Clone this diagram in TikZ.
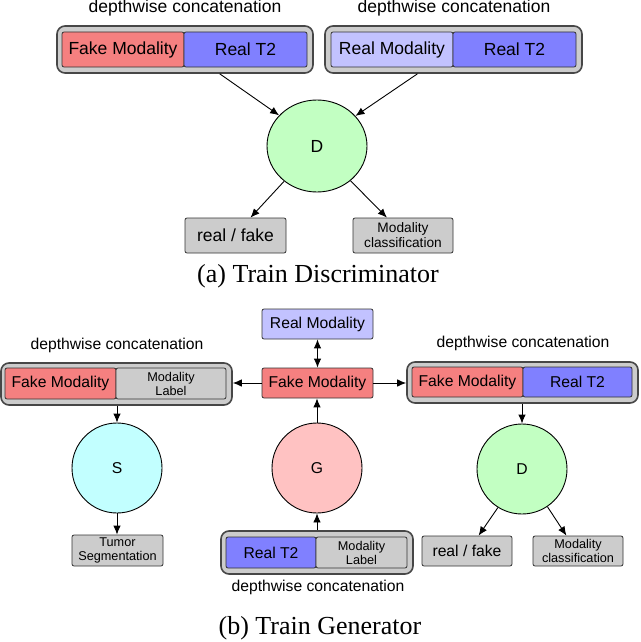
\documentclass[tikz,border=0pt]{standalone}
\usepackage{fontspec}
\setmainfont{Liberation Serif}
\newfontfamily\hvfont{Liberation Sans}
\usetikzlibrary{arrows.meta,shapes.geometric,calc}
\definecolor{fakered}{RGB}{245,128,128}
\definecolor{realblue}{RGB}{128,128,255}
\definecolor{reallight}{RGB}{194,194,255}
\definecolor{boxgray}{RGB}{204,204,204}
\definecolor{grpgray}{RGB}{204,204,204}
\definecolor{dgreen}{RGB}{194,255,194}
\definecolor{scyan}{RGB}{194,255,255}
\definecolor{gpink}{RGB}{255,194,194}
\newcommand\ftopmain{\hvfont\fontsize{17.5}{20}\selectfont}
\newcommand\ftopsmall{\hvfont\fontsize{13.7}{15}\selectfont}
\newcommand\fmain{\hvfont\fontsize{15.7}{18}\selectfont}
\newcommand\fsmall{\hvfont\fontsize{12.7}{14}\selectfont}
\newcommand\fcap{\rmfamily\fontsize{26}{30}\selectfont}
\begin{document}
\begin{tikzpicture}[x=1pt,y=-1pt,
  grp/.style={draw=black!72, line width=1.6pt, fill=grpgray, rounded corners=8pt, inner sep=0pt},
  cell/.style={draw=black!80, line width=0.8pt, rounded corners=2pt, inner sep=0pt, align=center},
  net/.style={ellipse, draw=black, line width=0.9pt, inner sep=0pt},
  lbl/.style={inner sep=0pt},
  arr/.style={-{Latex[length=9pt,width=7.5pt]}, line width=0.9pt},
  darr/.style={{Latex[length=9pt,width=7.5pt]}-{Latex[length=9pt,width=7.5pt]}, line width=0.9pt}]
\useasboundingbox (0,0) rectangle (640,642);

% ---------- (a) Train Discriminator ----------
\node[lbl, font=\ftopmain] (dcA) at (185,8) {depthwise concatenation};
\node[lbl, font=\ftopmain] (dcB) at (454,8) {depthwise concatenation};
\node[grp, minimum width=256pt, minimum height=47pt] (grpA) at (185,49.5) {};
\node[grp, minimum width=257pt, minimum height=47pt] (grpB) at (453.5,49.5) {};
\node[cell, fill=fakered, minimum width=122pt, minimum height=35pt, font=\ftopmain] (fakeA) at (123,49.5) {Fake Modality};
\node[cell, fill=realblue, minimum width=123pt, minimum height=35pt, font=\ftopmain] (t2A) at (245.5,49.5) {Real T2};
\node[cell, fill=reallight, minimum width=122pt, minimum height=35pt, font=\ftopmain] (rmB) at (392,49.5) {Real Modality};
\node[cell, fill=realblue, minimum width=123pt, minimum height=35pt, font=\ftopmain] (t2B) at (514.5,49.5) {Real T2};
\node[net, fill=dgreen, minimum width=100pt, minimum height=92pt, font=\ftopmain] (DA) at (317,146) {D};
\node[cell, fill=boxgray, minimum width=101pt, minimum height=35pt, font=\ftopmain] (rfA) at (235.5,235.5) {real / fake};
\node[cell, fill=boxgray, minimum width=100pt, minimum height=35pt, font=\ftopsmall] (mcA) at (403,235.5) {Modality\\classification};
\draw[arr] (grpA.-35.5) -- (DA.141.3);
\draw[arr] (grpB.-146.5) -- (DA.38.7);
\draw[arr] (DA.-133) -- (rfA.50);
\draw[arr] (DA.-46) -- (mcA.132.4);
\node[lbl, font=\fcap] (capA) at (318,276) {(a) Train Discriminator};

% ---------- (b) Train Generator ----------
% left branch
\node[lbl, font=\fmain] (dcL) at (117,345) {depthwise concatenation};
\node[grp, minimum width=231pt, minimum height=42pt] (grpL) at (116.5,384) {};
\node[cell, fill=fakered, minimum width=111pt, minimum height=31pt, font=\fmain] (fakeL) at (60.5,383.5) {Fake Modality};
\node[cell, fill=boxgray, minimum width=110pt, minimum height=31pt, font=\fsmall] (mlL) at (171,383.5) {Modality\\Label};
\node[net, fill=scyan, minimum size=90pt, font=\fmain] (S) at (117,468) {S};
\node[cell, fill=boxgray, minimum width=91pt, minimum height=31pt, font=\fsmall] (tum) at (117.5,550.5) {Tumor\\Segmentation};
\draw[arr] (S.north |- grpL.south) -- (S.north);
\draw[arr] (S.south) -- (S.south |- tum.north);

% centre branch
\node[cell, fill=reallight, minimum width=111pt, minimum height=30pt, font=\fmain] (rmC) at (317.5,324) {Real Modality};
\node[cell, fill=fakered, minimum width=111pt, minimum height=30pt, font=\fmain] (fakeC) at (317.5,383) {Fake Modality};
\node[net, fill=gpink, minimum size=90pt, font=\fmain] (G) at (317,468) {G};
\node[grp, minimum width=192pt, minimum height=43pt] (grpC) at (317,552.5) {};
\node[cell, fill=realblue, minimum width=90pt, minimum height=31pt, font=\fmain] (t2C) at (271,552.5) {Real T2};
\node[cell, fill=boxgray, minimum width=91pt, minimum height=31pt, font=\fsmall] (mlC) at (361.5,552.5) {Modality\\Label};
\node[lbl, font=\fmain] (dcC) at (318,587) {depthwise concatenation};
\draw[darr] (rmC.south) -- (fakeC.north);
\draw[arr] (G.north) -- (G.north |- fakeC.south);
\draw[arr] (G.south |- grpC.north) -- (G.south);

% right branch
\node[lbl, font=\fmain] (dcR) at (523,343) {depthwise concatenation};
\node[grp, minimum width=231pt, minimum height=41pt] (grpR) at (522.5,382.5) {};
\node[cell, fill=fakered, minimum width=111pt, minimum height=30pt, font=\fmain] (fakeR) at (467.5,382) {Fake Modality};
\node[cell, fill=realblue, minimum width=109pt, minimum height=30pt, font=\fmain] (t2R) at (577.5,382) {Real T2};
\node[net, fill=dgreen, minimum size=90pt, font=\fmain] (DR) at (522,469) {D};
\node[cell, fill=boxgray, minimum width=90pt, minimum height=30pt, font=\fmain] (rfR) at (467,551) {real / fake};
\node[cell, fill=boxgray, minimum width=90pt, minimum height=30pt, font=\fsmall] (mcR) at (578,551) {Modality\\classification};
\draw[arr] (DR.north |- grpR.south) -- (DR.north);
\draw[arr] (DR.-122.7) -- (rfR.53);
\draw[arr] (DR.-56.3) -- (mcR.127);

% horizontal links
\draw[arr] (fakeC.west) -- (fakeC.west -| grpL.east);
\draw[arr] (fakeC.east) -- (fakeC.east -| grpR.west);

\node[lbl, font=\fcap] (capB) at (320,628) {(b) Train Generator};
\end{tikzpicture}
\end{document}
